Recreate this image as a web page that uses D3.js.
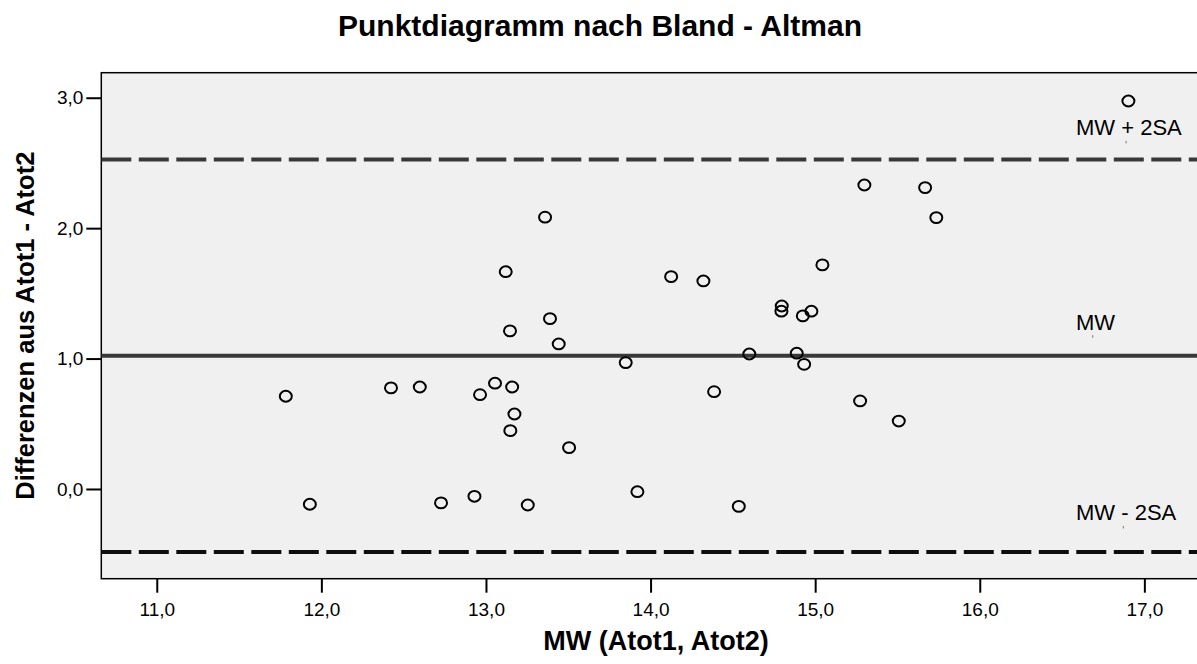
<!DOCTYPE html>
<html>
<head>
<meta charset="utf-8">
<script src="https://cdn.jsdelivr.net/npm/d3@7/dist/d3.min.js"></script>
<style>
  body { margin: 0; background: #fff; }
  svg { display: block; font-family: "Liberation Sans", Arial, Helvetica, sans-serif; }
</style>
</head>
<body>
<svg id="chart"></svg>
<script>
// Bland-Altman: mean of both measurements (x) vs difference (y)
var meanVals = [13.359, 13.120, 13.389, 13.146, 13.442, 11.784, 12.423, 12.598, 13.055, 12.964,
                13.159, 13.173, 13.148, 13.505, 11.930, 12.727, 12.930, 13.254, 14.125, 14.321,
                15.044, 14.797, 14.795, 14.925, 14.977, 13.849, 14.600, 14.888, 14.933, 14.386,
                15.273, 15.508, 13.920, 14.536, 16.903, 15.299, 15.668, 15.736];
var diffVals = [2.084, 1.666, 1.306, 1.212, 1.112, 0.711, 0.775, 0.782, 0.811, 0.723,
                0.782, 0.575, 0.447, 0.317, -0.117, -0.107, -0.056, -0.123, 1.628, 1.595,
                1.718, 1.403, 1.363, 1.327, 1.363, 0.969, 1.035, 1.041, 0.956, 0.746,
                0.675, 0.521, -0.021, -0.133, 2.975, 2.331, 2.311, 2.081];

var refNames = ["MW + 2SA", "MW", "MW - 2SA"];
var refValues = [2.527, 1.022, -0.483];

var xTicks = [11, 12, 13, 14, 15, 16, 17];
var yTicks = [0, 1, 2, 3];

var width = 1197, height = 664;
var pLeft = 101.3, pTop = 72.7, pBottom = 578.7, pRight = 1200;

var svg = d3.select("#chart").attr("width", width).attr("height", height);
var comma = function (d) { return d3.format(".1f")(d).replace(".", ","); };

var x = d3.scaleLinear().domain([10.663, 17.338]).range([pLeft, pRight]);
var y = d3.scaleLinear().domain([-0.688, 3.192]).range([pBottom, pTop]);

svg.append("defs").append("clipPath").attr("id", "plotclip")
  .append("rect").attr("x", pLeft).attr("y", pTop).attr("width", pRight - pLeft).attr("height", pBottom - pTop);

// plot frame
svg.append("rect")
  .attr("x", pLeft).attr("y", pTop)
  .attr("width", pRight - pLeft).attr("height", pBottom - pTop)
  .attr("fill", "#f0f0f0").attr("stroke", "#000").attr("stroke-width", 1.5);

// axes
var xAxis = svg.append("g")
  .attr("transform", "translate(0," + pBottom + ")")
  .call(d3.axisBottom(x).tickValues(xTicks).tickFormat(comma).tickSize(14).tickSizeOuter(0).tickPadding(9.5));
var yAxis = svg.append("g")
  .attr("transform", "translate(" + pLeft + ",0)")
  .call(d3.axisLeft(y).tickValues(yTicks).tickFormat(comma).tickSize(15).tickSizeOuter(0).tickPadding(3));

[xAxis, yAxis].forEach(function (a) {
  a.attr("font-family", null).attr("font-size", null);
  a.select(".domain").remove();
  a.selectAll(".tick line").attr("stroke", "#000").attr("stroke-width", 2);
  a.selectAll(".tick text").attr("fill", "#000").style("font-size", "19px");
});

// reference lines
var refStyle = [
  { color: "#383838", dash: "30,7.5", dy: -24 },
  { color: "#383838", dash: null, dy: -26 },
  { color: "#0d0d0d", dash: "30,7.5", dy: -31.5 }
];
var plot = svg.append("g").attr("clip-path", "url(#plotclip)");
plot.selectAll("line.ref")
  .data(refValues)
  .enter().append("line")
  .attr("class", "ref")
  .attr("x1", pLeft).attr("x2", pRight)
  .attr("y1", function (d) { return y(d); })
  .attr("y2", function (d) { return y(d); })
  .attr("stroke", function (d, i) { return refStyle[i].color; })
  .attr("stroke-width", 4)
  .attr("stroke-dasharray", function (d, i) { return refStyle[i].dash; });

var labelX = 16.585;
var refLabels = svg.selectAll("text.reflabel")
  .data(refValues)
  .enter().append("text")
  .attr("class", "reflabel")
  .attr("x", x(labelX))
  .attr("y", function (d, i) { return y(d) + refStyle[i].dy; })
  .style("font-size", "22px")
  .attr("fill", "#000")
  .text(function (d, i) { return refNames[i]; });

// tiny anchor ticks under the labels
refLabels.each(function (d, i) {
  var bb = this.getBBox();
  svg.append("rect")
    .attr("x", bb.x + bb.width / 2 - 3.5)
    .attr("y", y(d) + refStyle[i].dy + 5.5)
    .attr("width", 1).attr("height", 2.5)
    .attr("fill", "#777");
});

// points
svg.append("g").selectAll("ellipse")
  .data(meanVals)
  .enter().append("ellipse")
  .attr("cx", function (d) { return x(d); })
  .attr("cy", function (d, i) { return y(diffVals[i]); })
  .attr("rx", 6).attr("ry", 5.4)
  .attr("fill", "none").attr("stroke", "#000").attr("stroke-width", 2);

// titles
svg.append("text")
  .attr("x", 600).attr("y", 36)
  .attr("text-anchor", "middle")
  .style("font-size", "30px").style("font-weight", "bold")
  .text("Punktdiagramm nach Bland - Altman");

svg.append("text")
  .attr("x", 656).attr("y", 650)
  .attr("text-anchor", "middle")
  .style("font-size", "27px").style("font-weight", "bold")
  .text("MW (Atot1, Atot2)");

svg.append("text")
  .attr("transform", "translate(34," + ((pTop + pBottom) / 2) + ") rotate(-90)")
  .attr("text-anchor", "middle")
  .style("font-size", "25.5px").style("font-weight", "bold")
  .text("Differenzen aus Atot1 - Atot2");
</script>
</body>
</html>
